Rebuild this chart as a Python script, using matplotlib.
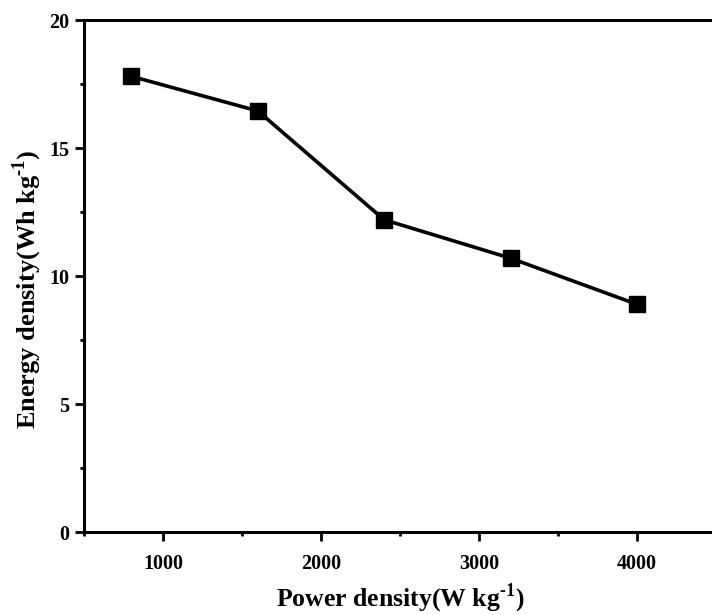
import matplotlib
matplotlib.use("Agg")
import matplotlib.pyplot as plt
from matplotlib.ticker import MultipleLocator

# values
power_density = [800, 1600, 2400, 3200, 4000]
energy_density = [17.8, 16.45, 12.2, 10.7, 8.9]

x_ticks = [1000, 2000, 3000, 4000]
y_ticks = [0, 5, 10, 15, 20]

plt.rcParams["font.family"] = ["Liberation Serif", "DejaVu Serif"]
plt.rcParams["font.weight"] = "bold"
plt.rcParams["mathtext.fontset"] = "custom"
plt.rcParams["mathtext.rm"] = "Liberation Serif:bold"
plt.rcParams["mathtext.bf"] = "Liberation Serif:bold"


def main():
    fig = plt.figure(figsize=(7.12, 6.15), dpi=100)
    # axes run slightly past the right edge, as in the cropped original
    ax = fig.add_axes([84 / 712, 82.7 / 615, 632 / 712, 512.3 / 615])

    ax.plot(power_density, energy_density, color="black", linewidth=2.6,
            marker="s", markersize=11, markerfacecolor="black",
            markeredgecolor="black")

    ax.set_xlim(500, 4500)
    ax.set_ylim(0, 20)
    ax.set_xticks(x_ticks)
    ax.set_yticks(y_ticks)
    ax.xaxis.set_minor_locator(MultipleLocator(500))
    ax.yaxis.set_minor_locator(MultipleLocator(2.5))

    for side in ["left", "bottom", "top", "right"]:
        ax.spines[side].set_linewidth(2.2)

    ax.tick_params(which="major", direction="out", length=6.5, width=2.0,
                   labelsize=14.5, pad=4)
    ax.tick_params(which="minor", direction="out", length=3, width=2.0)
    ax.tick_params(axis="x", which="major", pad=9)
    for lab in ax.get_xticklabels() + ax.get_yticklabels():
        lab.set_fontweight("bold")

    ax.set_xlabel(r"Power density(W kg$^{\text{-1}}$)", fontsize=18.5,
                  fontweight="bold")
    ax.set_ylabel(r"Energy density(Wh kg$^{\text{-1}}$)", fontsize=19,
                  fontweight="bold")
    ax.xaxis.set_label_coords(0.5, -0.097)
    ax.yaxis.set_label_coords(-0.063, 0.475)

    fig.savefig("out.png", dpi=100)
    plt.close(fig)


if __name__ == "__main__":
    main()
